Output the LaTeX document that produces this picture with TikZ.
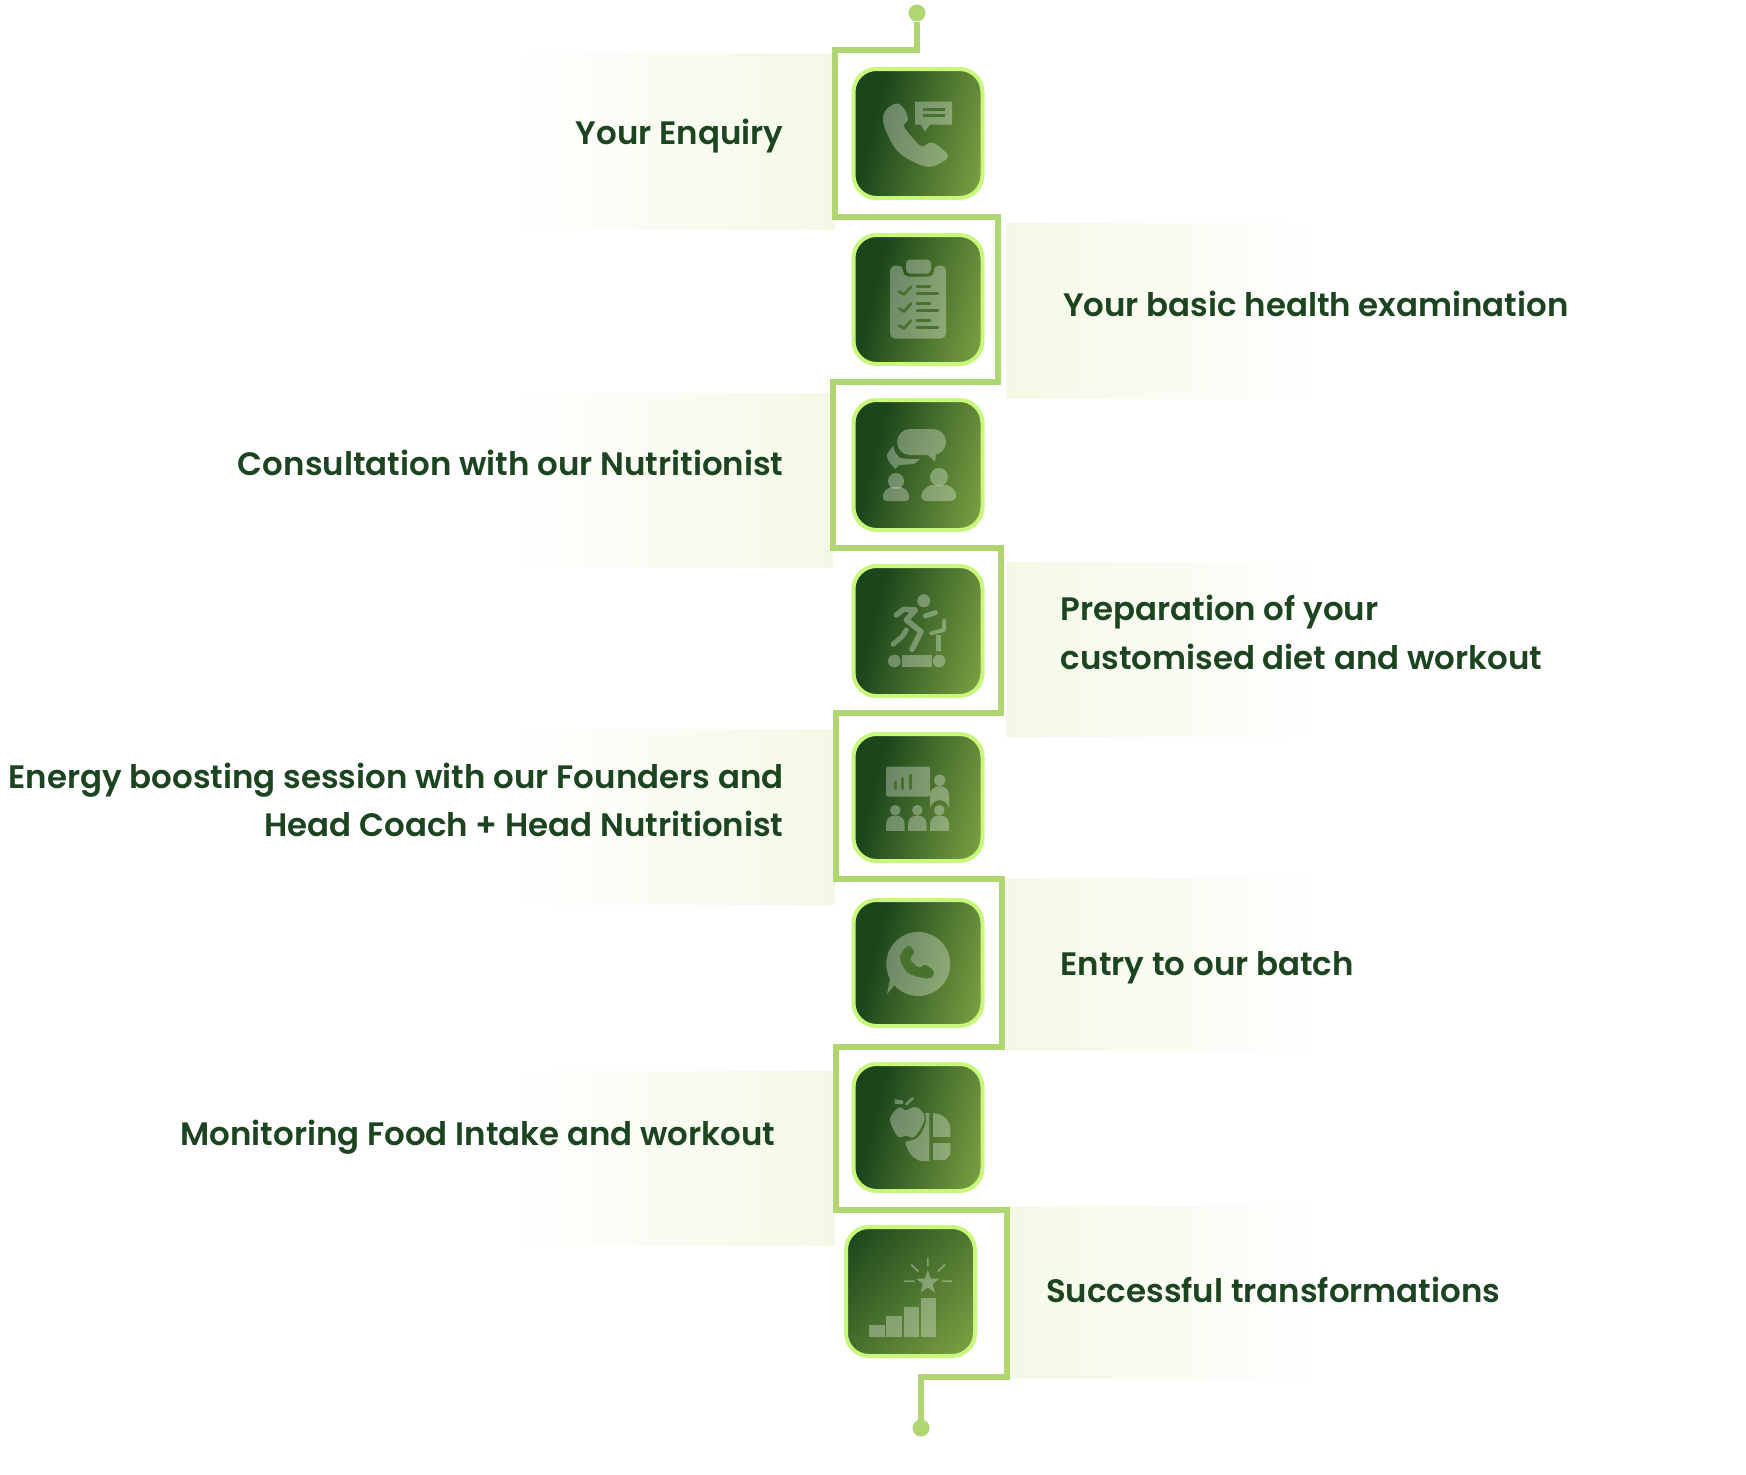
\documentclass[tikz,border=0pt]{standalone}
\usepackage{fontspec}
\setmainfont{Poppins SemiBold}
\usetikzlibrary{positioning}
\definecolor{stepdark}{HTML}{1B451B}
\definecolor{steplight}{HTML}{7DA343}
\definecolor{stepedge}{HTML}{C9F77C}
\definecolor{stepgreen}{HTML}{B0D672}
\definecolor{bandgreen}{HTML}{F4F9E6}
\definecolor{textgreen}{HTML}{1C4420}
\definecolor{cutgreen}{HTML}{47722E}
\pgfdeclarehorizontalshading{stepshade}{100bp}{color(0bp)=(stepdark); color(32bp)=(stepdark); color(80bp)=(steplight); color(100bp)=(steplight)}
\pgfdeclarehorizontalshading{lastshade}{100bp}{color(0bp)=(stepdark); color(17bp)=(stepdark); color(84bp)=(steplight); color(100bp)=(steplight)}
\tikzstyle{stepbox} = [rectangle, rounded corners = 23pt, minimum width = 129pt, minimum height = 129pt, inner sep = 0pt, outer sep = 0pt, draw = stepedge, line width = 4pt, shading = stepshade, shading angle = -14]
\tikzstyle{steptext} = [font = \fontsize{32.45}{48.5}\selectfont, text = textgreen, inner sep = 0pt, outer sep = 0pt]
\tikzstyle{stepline} = [draw = stepgreen, line width = 5.5pt, miter limit = 10]
\tikzstyle{stepdot} = [circle, fill = stepgreen, minimum size = 17pt, inner sep = 0pt, outer sep = 0pt]
\tikzstyle{bandleft} = [left color = white, middle color = bandgreen, right color = bandgreen]
\tikzstyle{bandright} = [left color = bandgreen, middle color = bandgreen, right color = white]
\tikzstyle{iconfill} = [fill = white, fill opacity = 0.32, draw = none]
\tikzstyle{iconstroke} = [draw = white, draw opacity = 0.32, line cap = round, line join = round]
\tikzstyle{iconcut} = [draw = cutgreen, line width = 2.7pt, line cap = round, line join = round]

\begin{document}
\begin{tikzpicture}[x = 1pt, y = -1pt, node distance = 166pt]
\useasboundingbox (0,0) rectangle (1746,1475);

%BANDS
\shade [bandleft] (505,53) rectangle (835,229);
\shade [bandright] (1006,223) rectangle (1330,398);
\shade [bandleft] (505,393) rectangle (833,567);
\shade [bandright] (1006,562) rectangle (1330,736);
\shade [bandleft] (505,729) rectangle (835,904);
\shade [bandright] (1006,878) rectangle (1330,1050);
\shade [bandleft] (505,1071) rectangle (835,1245);
\shade [bandright] (1008,1206) rectangle (1330,1378);

%NODES
\node (enquiry) [stepbox] at (918,133.5) {};
\node (health) [stepbox, below of = enquiry] {};
\node (consult) [stepbox, below of = health, yshift = 0.5pt, minimum height = 130pt] {};
\node (workout) [stepbox, below of = consult, minimum height = 130pt] {};
\node (session) [stepbox, below of = workout, yshift = -0.5pt, minimum height = 127pt] {};
\node (batch) [stepbox, below of = session, yshift = 0.5pt, minimum height = 126pt] {};
\node (monitor) [stepbox, below of = batch, yshift = 1.5pt, minimum height = 127pt] {};
\node (success) [stepbox, below of = monitor, xshift = -7.5pt, yshift = 2pt, shading = lastshade, shading angle = -40] {};

\node (enquirytext) [steptext, left = 70pt of enquiry, yshift = -3pt] {Your Enquiry};
\node (healthtext) [steptext, right = 80.5pt of health, yshift = -4.5pt] {Your basic health examination};
\node (consulttext) [steptext, left = 70pt of consult, yshift = 2.5pt] {Consultation with our Nutritionist};
\node (workouttext) [steptext, right = 78pt of workout, yshift = -1.3pt, align = left] {Preparation of your \\ customised diet and workout};
\node (sessiontext) [steptext, left = 70pt of session, yshift = -2.5pt, align = right] {Energy boosting session with our Founders and \\ Head Coach + Head Nutritionist};
\node (batchtext) [steptext, right = 78pt of batch, yshift = -5pt] {Entry to our batch};
\node (monitortext) [steptext, left = 78pt of monitor, yshift = -10pt] {Monitoring Food Intake and workout};
\node (successtext) [steptext, right = 71pt of success, yshift = 2pt] {Successful transformations};

%ICONS
\begin{scope}[shift = {(enquiry.center)}]
\fill [iconfill] plot [smooth cycle, tension = 0.6] coordinates {(-33,-22) (-22,-30) (-14,-25) (-10,-14) (-14,-7) (-3,7) (4,13) (14,9) (27,18) (29,25) (14,33) (-1,30) (-21,17) (-34,-8)};
\fill [iconfill] (-3,-32) -- (34,-32) -- (34,-9) -- (12,-9) -- (7,-2) -- (3,-9) -- (-3,-9) -- cycle;
\draw [iconcut, line cap = butt] (5,-24) -- (27,-24) (5,-18.3) -- (27,-18.3);
\end{scope}

\begin{scope}[shift = {(health.center)}]
\fill [iconfill, rounded corners = 5pt] (-28,-34) -- (-15,-34) -- (-15,-23) -- (16,-23) -- (16,-34) -- (28,-34) -- (28,39) -- (-28,39) -- cycle;
\fill [iconfill, rounded corners = 4pt] (-12,-40) rectangle (13,-26);
\draw [iconcut] (-19,-8) -- (-14,-5) -- (-7,-13) (-19,9) -- (-14,12) -- (-7,4) (-19,26) -- (-14,29) -- (-7,21);
\draw [iconcut] (-1,-13) -- (12,-13) (-1,-5.7) -- (20,-5.7) (-1,4) -- (12,4) (-1,11.3) -- (20,11.3) (-1,21) -- (12,21) (-1,28.3) -- (20,28.3);
\end{scope}

\begin{scope}[shift = {(consult.center)}]
\fill [iconfill, rounded corners = 13pt] (-21,-36) rectangle (28,-10);
\fill [iconfill] (10,-10) -- (18,-10) -- (17,-3) -- cycle;
\fill [iconfill] plot [smooth, tension = 0.6] coordinates {(-25,-19) (-31,-10) (-28,-2)} -- (-23,4) -- (-19,0) -- (-4,-1) -- (2,-6) -- (-10,-6) -- (-18,-7) -- (-23,-13) -- cycle;
\fill [iconfill] (-22,16) circle (8);
\fill [iconfill] (-31,36) .. controls (-38,36) and (-36,25) .. (-27,22) -- (-17,22) .. controls (-8,25) and (-6,36) .. (-13,36) -- cycle;
\fill [iconfill] (21,12) circle (9);
\fill [iconfill] (9,36) .. controls (0,36) and (2,24) .. (13,20) -- (29,20) .. controls (40,24) and (42,36) .. (31,36) -- cycle;
\end{scope}

\begin{scope}[shift = {(workout.center)}]
\fill [iconfill] (5.7,-30.3) circle (6.5);
\draw [iconstroke, line width = 5.5pt] (-21.7,-16) -- (-14.3,-21.7) -- (-2.7,-21) -- (-11.7,-11) -- (3,0.7) -- (-6,18.3);
\draw [iconstroke, line width = 5pt] (-11.7,-1) -- (-16,5.7) -- (-25,13.3);
\draw [iconstroke, line width = 5pt] (7.3,-15) -- (17.3,-18.3);
\draw [iconstroke, line width = 4pt] (13.3,2.3) -- (25.7,-1) -- (26.3,-10.3);
\draw [iconstroke, line width = 5pt, line cap = butt] (20.7,3.5) -- (20.7,19.7);
\fill [iconfill] (-16,24.3) rectangle (14,35.7);
\fill [iconfill] (-23.7,30) circle (6.3);
\fill [iconfill] (21,30) circle (6.3);
\end{scope}

\begin{scope}[shift = {(session.center)}]
\fill [iconfill, rounded corners = 1.5pt] (-32,-31) rectangle (12,-1);
\draw [iconcut, line width = 3pt] (-22.7,-15.7) -- (-22.7,-9) (-15.3,-19) -- (-15.3,-9) (-7.7,-22.3) -- (-7.7,-9);
\fill [iconfill] (21.7,-17.3) circle (5.7);
\fill [iconfill] (12,-2.3) .. controls (12,-8) and (16,-11.3) .. (21.7,-11.3) .. controls (27,-11.3) and (31,-8) .. (31,-2.3) -- (31,10.3) .. controls (29,5) and (26,2.7) .. (21.7,2.7) .. controls (17,2.7) and (14,5) .. (12,10.3) -- cycle;
\fill [iconfill] (-22.7,12.7) circle (5.3);
\fill [iconfill] (-0.7,12.7) circle (5.3);
\fill [iconfill] (21.3,12.7) circle (5.3);
\fill [iconfill] (-32,33.3) -- (-32,27) .. controls (-32,21) and (-28,18) .. (-22.7,18) .. controls (-17,18) and (-13.3,21) .. (-13.3,27) -- (-13.3,33.3) -- cycle;
\fill [iconfill] (-10,33.3) -- (-10,27) .. controls (-10,21) and (-6,18) .. (-0.7,18) .. controls (5,18) and (8.7,21) .. (8.7,27) -- (8.7,33.3) -- cycle;
\fill [iconfill] (12,33.3) -- (12,27) .. controls (12,21) and (16,18) .. (21.3,18) .. controls (27,18) and (31,21) .. (31,27) -- (31,33.3) -- cycle;
\end{scope}

\begin{scope}[shift = {(batch.center)}]
\fill [iconfill] (-28,16) arc (152:-222:32) -- (-31,31) -- cycle;
\fill [cutgreen] plot [smooth cycle, tension = 0.6] coordinates {(-16,-11) (-9,-17) (-4,-11) (-7.5,-3.5) (0.7,4.3) (7.3,2) (15.7,8.7) (10.7,15.3) (-9.3,10.3) (-17.7,-3)};
\end{scope}

\begin{scope}[shift = {(monitor.center)}]
\fill [iconfill] plot [smooth cycle, tension = 0.6] coordinates {(-12,-17) (-19,-20) (-28,-9) (-23,5) (-18,10) (-12,8) (-5,10) (2.3,1.7) (6.7,-10) (0.7,-19.3) (-6,-20)};
\fill [iconfill] (-23.3,-28.3) -- (-15,-27) -- (-15,-23.3) -- (-23.3,-23.3) -- cycle;
\draw [iconstroke, line width = 2.5pt] (-11.7,-23.3) -- (-5.3,-29.3);
\fill [iconfill] (7.3,-14.3) -- (11.3,-14.3) -- (11.3,33.3) -- (2.3,33.3) .. controls (-6,31) and (-11,23) .. (-12.7,14.3) -- (-2.7,11.7) .. controls (2,9) and (6,2) .. (8.3,-6.7) -- cycle;
\fill [iconfill] (15,-14.3) .. controls (24,-14.3) and (32.3,-8) .. (32.3,2) -- (32.3,9.3) -- (15,9.3) -- cycle;
\fill [iconfill] (15,15.7) -- (32.3,15.7) -- (32.3,27) -- (27.3,32.7) -- (15,32.7) -- cycle;
\end{scope}

\begin{scope}[shift = {(success.center)}]
\fill [iconfill] (-41.3,33.3) rectangle (-26,45);
\fill [iconfill] (-24.3,24.3) rectangle (-9,45);
\fill [iconfill] (-7,15.7) rectangle (8.3,45);
\fill [iconfill] (10,6.7) rectangle (25.3,45);
\fill [iconfill] (17.3,-21.5) -- (20.2,-13) -- (29.2,-12.9) -- (22.1,-7.5) -- (24.6,1.1) -- (17.3,-4) -- (10,1.1) -- (12.5,-7.5) -- (5.4,-12.9) -- (14.4,-13) -- cycle;
\draw [iconstroke, line width = 1.8pt, line cap = butt] (17.3,-34) -- (17.3,-25) (-6.3,-10.3) -- (4,-10.3) (31.3,-10.3) -- (41.3,-10.3) (0.7,-27) -- (8,-20) (34.7,-27) -- (27.3,-20);
\end{scope}

%CONNECTOR
\node (topdot) [stepdot] at (917,13) {};
\node (botdot) [stepdot] at (921,1428) {};
\coordinate (bend1) at (917,50);
\coordinate (bend2) at (835,50);
\coordinate (bend3) at (835,217);
\coordinate (bend4) at (998,217);
\coordinate (bend5) at (998,382);
\coordinate (bend6) at (833,382);
\coordinate (bend7) at (833,548);
\coordinate (bend8) at (1001,548);
\coordinate (bend9) at (1001,713);
\coordinate (bend10) at (836,713);
\coordinate (bend11) at (836,879);
\coordinate (bend12) at (1002,879);
\coordinate (bend13) at (1002,1047);
\coordinate (bend14) at (836,1047);
\coordinate (bend15) at (836,1210);
\coordinate (bend16) at (1007,1210);
\coordinate (bend17) at (1007,1377);
\coordinate (bend18) at (921,1377);
\draw [stepline] (topdot) -- (bend1) -- (bend2) -- (bend3) -- (bend4) -- (bend5) -- (bend6) -- (bend7) -- (bend8) -- (bend9) -- (bend10) -- (bend11) -- (bend12) -- (bend13) -- (bend14) -- (bend15) -- (bend16) -- (bend17) -- (bend18) -- (botdot);

\end{tikzpicture}
\end{document}
